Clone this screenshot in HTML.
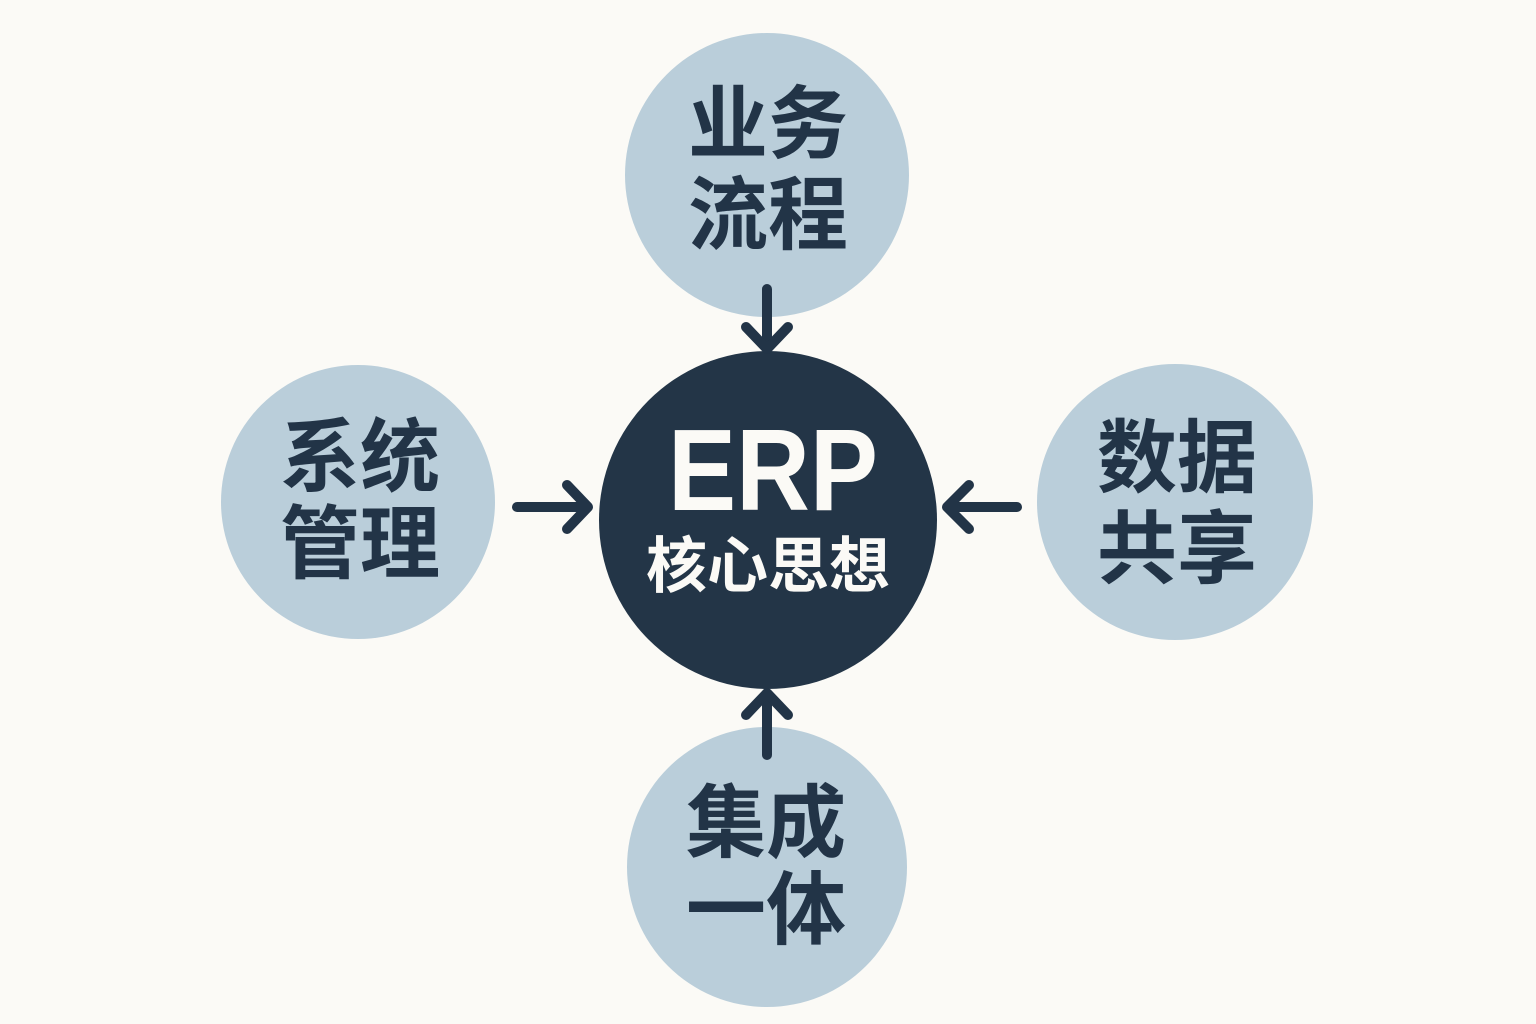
<!DOCTYPE html>
<html>
<head>
<meta charset="utf-8">
<style>
  html, body { margin: 0; padding: 0; background: #FBFAF6; }
  body { width: 1536px; height: 1024px; overflow: hidden; }
  svg { display: block; }
  .lbl { font-family: "Liberation Sans", "Noto Sans CJK SC", sans-serif; font-weight: 700; fill: #223447; }
  .wht { font-family: "Liberation Sans", "Noto Sans CJK SC", sans-serif; font-weight: 700; fill: #FBFAF6; }
</style>
</head>
<body>
<svg width="1536" height="1024" viewBox="0 0 1536 1024" xmlns="http://www.w3.org/2000/svg">
  <rect x="0" y="0" width="1536" height="1024" fill="#FBFAF6"/>

  <!-- outer circles -->
  <circle cx="767" cy="175" r="142" fill="#BACEDA"/>
  <circle cx="358" cy="502" r="137" fill="#BACEDA"/>
  <circle cx="1175" cy="502" r="138" fill="#BACEDA"/>
  <circle cx="767" cy="867" r="140" fill="#BACEDA"/>

  <!-- center circle -->
  <circle cx="768" cy="520" r="169" fill="#233547"/>

  <!-- arrows -->
  <g stroke="#223447" stroke-width="10" stroke-linecap="round" stroke-linejoin="round" fill="none">
    <!-- top, pointing down -->
    <line x1="767" y1="289" x2="767" y2="346"/>
    <polyline points="746,327 767,349 788,327"/>
    <!-- left, pointing right -->
    <line x1="517" y1="507" x2="584" y2="507"/>
    <polyline points="567,485 588,507 567,529"/>
    <!-- right, pointing left -->
    <line x1="1017" y1="507" x2="950" y2="507"/>
    <polyline points="969,485 947,507 969,529"/>
    <!-- bottom, pointing up -->
    <line x1="767" y1="755" x2="767" y2="696"/>
    <polyline points="746,715 767,693 788,715"/>
  </g>

  <!-- top labels -->
  <text class="lbl" x="768" y="152" font-size="80" text-anchor="middle">业务</text>
  <text class="lbl" x="768" y="243" font-size="80" text-anchor="middle">流程</text>

  <!-- left labels -->
  <text class="lbl" x="360" y="485" font-size="80" text-anchor="middle">系统</text>
  <text class="lbl" x="360" y="572" font-size="80" text-anchor="middle">管理</text>

  <!-- right labels -->
  <text class="lbl" x="1177" y="486" font-size="80" text-anchor="middle">数据</text>
  <text class="lbl" x="1177" y="577" font-size="80" text-anchor="middle">共享</text>

  <!-- bottom labels -->
  <text class="lbl" x="766" y="851" font-size="80" text-anchor="middle">集成</text>
  <text class="lbl" x="766" y="938" font-size="80" text-anchor="middle">一体</text>

  <!-- center labels -->
  <text class="wht" x="668" y="510" font-size="116" textLength="210" lengthAdjust="spacingAndGlyphs">ERP</text>
  <text class="wht" x="768" y="587" font-size="61" text-anchor="middle">核心思想</text>
</svg>
</body>
</html>
